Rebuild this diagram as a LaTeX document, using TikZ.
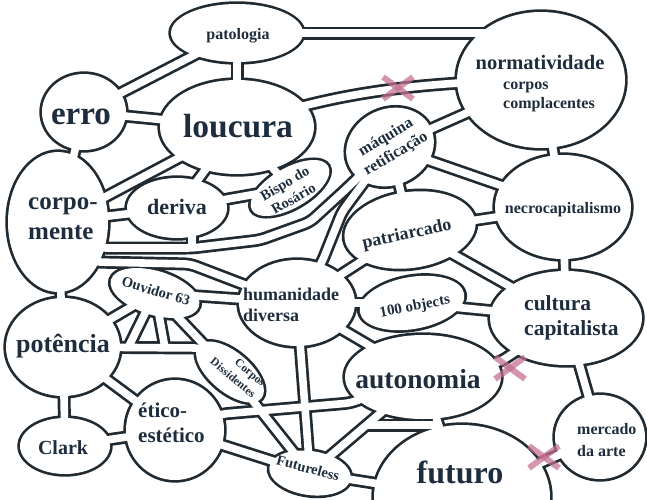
\documentclass[tikz,border=0pt]{standalone}
\usepackage{fontspec}
\setmainfont{Liberation Serif}
\usetikzlibrary{shapes.geometric,calc}
\pgfdeclarelayer{bgz}\pgfdeclarelayer{bga}\pgfdeclarelayer{bgb}\pgfdeclarelayer{bgc}
\pgfsetlayers{bgz,bga,bgb,bgc,main}
\definecolor{ink}{RGB}{32,42,48}
\definecolor{txt}{RGB}{30,45,62}
\definecolor{xpink}{RGB}{196,110,145}
\def\owd{2.7pt}
\newcommand\blob[6]{%
  \begin{pgfonlayer}{bgb}
    \node[blobout, minimum width={2*#4pt+2*\owd}, minimum height={2*#5pt+2*\owd}, rotate=#6] (#1-o) at (#2,#3) {};
  \end{pgfonlayer}
  \node[blobin, minimum width={2*#4pt}, minimum height={2*#5pt}, rotate=#6] (#1) at (#2,#3) {};
}
\newcommand\tube[1]{%
  \begin{pgfonlayer}{bga}\draw[tubeout] #1;\end{pgfonlayer}
  \begin{pgfonlayer}{bgc}\draw[tubein] #1;\end{pgfonlayer}}
\newcommand\fsz[2]{\fontsize{#1}{#2}\selectfont}
\newcommand\xmark[2]{%
  \draw[xm] ($(#1,#2)+(-15,-11)$) -- ($(#1,#2)+(15,11)$);
  \draw[xm] ($(#1,#2)+(-15,11)$) -- ($(#1,#2)+(15,-11)$);}
\begin{document}
\begin{tikzpicture}[x=1pt,y=-1pt,
  blobout/.style={ellipse, fill=ink, draw=none, inner sep=0pt, outer sep=0pt},
  blobin/.style={ellipse, fill=white, draw=none, inner sep=0pt, outer sep=0pt},
  tubeout/.style={draw=ink, line width=13pt, line join=round, rounded corners=6pt},
  tubein/.style={draw=white, line width=7.6pt, line join=round, rounded corners=6pt},
  lbl/.style={text=txt, inner sep=0pt},
  xm/.style={draw=xpink, line width=6pt, opacity=0.72}]
\useasboundingbox (0,0) rectangle (647,499);
\begin{pgfonlayer}{bgz}\fill[white] (0,0) rectangle (647,499);\end{pgfonlayer}

\blob{pat}{237}{33}{66}{29}{0}
\blob{norm}{541}{80}{84}{68}{0}
\blob{erro}{84}{112}{42}{38}{0}
\blob{louc}{237}{127}{77}{47}{0}
\blob{corp}{58}{222}{50}{70}{0}
\blob{der}{177}{208}{50}{30}{0}
\blob{bispo}{290}{188}{44}{20}{30}
\blob{maq}{390}{147}{45}{38}{25}
\blob{patr}{410}{230}{66}{38}{8}
\blob{necro}{563}{207}{68}{52}{0}
\blob{ouv}{155}{293}{46}{22}{-17}
\blob{hum}{297}{303}{58}{43}{0}
\blob{obj}{412}{303}{53}{26}{10}
\blob{cult}{566}{318}{76}{47}{0}
\blob{pot}{63}{347}{57}{49}{0}
\blob{cds}{230}{372}{41}{20}{-40}
\blob{auto}{423}{377}{78}{42}{0}
\blob{eti}{175}{430}{49}{50}{0}
\blob{clark}{65}{446}{45}{28}{0}
\blob{ftl}{310}{473}{41}{22}{-8}
\blob{fut}{462}{497}{88}{72}{0}
\blob{merc}{600}{437}{45}{42}{0}

\coordinate (j1) at (192,248);
\coordinate (j2) at (128,348);
\coordinate (j3) at (165,348);
\coordinate (j4) at (366,425);
\coordinate (j5) at (439,425);

\tube{(erro.center) -- (pat.center)}
\tube{(pat.center) -- (louc.center)}
\tube{(pat.center) -- (pat.center -| norm.center)}
\tube{(louc.center) .. controls (330,92) and (420,82) .. (norm.center)}
\tube{(erro.center) -- (louc.center)}
\tube{(erro.center) -- (corp.center)}
\tube{(louc.center) -- (corp.center)}
\tube{(louc.center) -- (der.center)}
\tube{(louc.center) -- (bispo.center)}
\tube{(corp.center) -- (der.center)}
\tube{(der.center) -- (bispo.center)}
\tube{(corp.center) -- (100,248) -- (j1) -- (260,240) -- (310,222) -- (345,190) -- (maq.center)}
\tube{(der.center -| j1) -- (j1)}
\tube{(corp.center) -- (95,262) -- (190,264) -- (245,285) -- (hum.center)}
\tube{(hum.center) -- (322,262) -- (342,212) -- (maq.center)}
\tube{(ouv.center) -- (hum.center)}
\tube{(ouv.center) -- (cds.center)}
\tube{(corp.center) -- (pot.center)}
\tube{(pot.center) -- (ouv.center)}
\tube{(pot.center) -- (200,348) -- (cds.center)}
\tube{(ouv.center) -- (j2)}
\tube{(ouv.center) -- (j3)}
\tube{(pot.center) -- (eti.center)}
\tube{(pot.center) -- (clark.center)}
\tube{(clark.center) -- (eti.center)}
\tube{(eti.center) -- (ftl.center)}
\tube{(eti.center) -- (222,414) -- (350,403) -- (auto.center)}
\tube{(cds.center) -- (ftl.center)}
\tube{(hum.center) -- (ftl.center)}
\tube{(hum.center) -- (auto.center)}
\tube{(auto.center) -- (ftl.center)}
\tube{(ftl.center) -- (fut.center)}
\tube{(j4) -- (j5)}
\tube{(auto.center) -- (fut.center)}
\tube{(auto.center) -- (500,362) -- (cult.center)}
\tube{(cult.center) -- (merc.center)}
\tube{(fut.center) -- (merc.center)}
\tube{(cult.center) -- (necro.center)}
\tube{(cult.center) -- (obj.center)}
\tube{(obj.center) -- (hum.center)}
\tube{(patr.center) -- (cult.center)}
\tube{(patr.center) -- (necro.center)}
\tube{(patr.center) -- (maq.center)}
\tube{(hum.center) -- (patr.center)}
\tube{(maq.center) -- (necro.center)}
\tube{(maq.center) -- (norm.center)}
\tube{(norm.center) -- (necro.center)}

\node[lbl, font=\bfseries\fsz{16}{19}] (pat-t) at (238,36) {patologia};
\node[lbl, font=\bfseries\fsz{20.5}{24}] (norm-t) at (540,62) {normatividade};
\node[lbl, font=\bfseries\fsz{16}{19}, align=left] (norm-t2) at (549,97) {corpos\\complacentes};
\node[lbl, font=\bfseries\fsz{33}{38}] (erro-t) at (81,116.5) {erro};
\node[lbl, font=\bfseries\fsz{33.5}{38}] (louc-t) at (238,126) {loucura};
\node[lbl, font=\bfseries\fsz{25}{30}, align=left, anchor=west] (corp-t) at (28,219) {corpo-\\mente};
\node[lbl, font=\bfseries\fsz{22}{26}] (der-t) at (177,207) {deriva};
\node[lbl, font=\bfseries\fsz{14.5}{17.5}, align=center, rotate=30] (bispo-t) at (289,191) {Bispo do\\Rosário};
\node[lbl, font=\bfseries\fsz{16}{19}, align=center, rotate=31] (maq-t) at (391,146) {máquina\\retificação};
\node[lbl, font=\bfseries\fsz{18}{21}, rotate=12] (patr-t) at (407,235) {patriarcado};
\node[lbl, font=\bfseries\fsz{16}{19}] (necro-t) at (563,210) {necrocapitalismo};
\node[lbl, font=\bfseries\fsz{14.5}{17}, rotate=-17] (ouv-t) at (156,291) {Ouvidor 63};
\node[lbl, font=\bfseries\fsz{18}{21}, align=left, anchor=west] (hum-t) at (243,305) {humanidade\\diversa};
\node[lbl, font=\bfseries\fsz{15}{18}, rotate=11] (obj-t) at (415,307) {100 objects};
\node[lbl, font=\bfseries\fsz{21.5}{25}, align=left, anchor=west] (cult-t) at (524,318) {cultura\\capitalista};
\node[lbl, font=\bfseries\fsz{26}{30}] (pot-t) at (63,346) {potência};
\node[lbl, font=\bfseries\fsz{11.5}{15}, align=right, rotate=-40] (cds-t) at (238,372) {Corpos\\Dissidentes};
\node[lbl, font=\bfseries\fsz{27.5}{32}] (auto-t) at (418,379) {autonomia};
\node[lbl, font=\bfseries\fsz{21}{25}, align=left, anchor=west] (eti-t) at (138,423) {ético-\\estético};
\node[lbl, font=\bfseries\fsz{20}{24}] (clark-t) at (63,447.5) {Clark};
\node[lbl, font=\bfseries\fsz{14.5}{17}, rotate=-15] (ftl-t) at (308,468) {Futureless};
\node[lbl, font=\bfseries\fsz{32}{37}] (fut-t) at (460,472) {futuro};
\node[lbl, font=\bfseries\fsz{16}{22}, align=left, anchor=west] (merc-t) at (577,440) {mercado\\da arte};

\xmark{398}{88}
\xmark{510}{368}
\xmark{544}{457}
\end{tikzpicture}
\end{document}
